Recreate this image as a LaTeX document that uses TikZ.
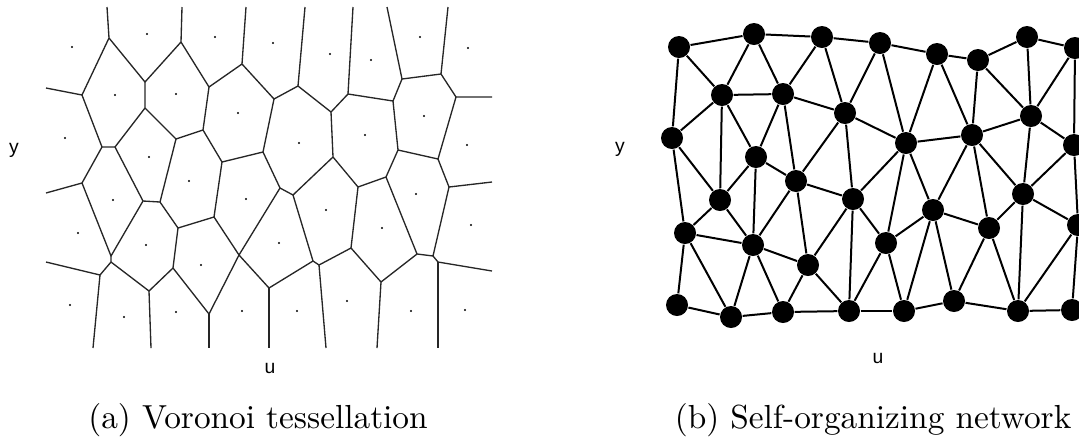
\documentclass[tikz,border=0pt]{standalone}
\usepackage{fontspec}
\newfontfamily\axisfont{Liberation Sans}
\tikzset{
  cell/.style={line width=0.4pt, black!85, line join=round},
  link/.style={line width=0.6pt},
  site/.style={circle, fill=black, inner sep=0pt, minimum size=6.6pt},
  axis/.style={font=\axisfont\fontsize{5.8}{7}\selectfont, anchor=base, inner sep=0pt},
  caption/.style={anchor=base, inner sep=0pt},
}
\begin{document}
\begin{tikzpicture}[x=0.3pt, y=-0.3pt]
  \clip (0,0) rectangle (1079,441);

  % sites (left) and network nodes (right)
  \foreach \i/\px/\py in {1/679/47, 2/754/34, 3/822/37, 4/880/43, 5/937/54,
      6/978/60, 7/1027/37, 8/1075/48, 9/722/95, 10/783/94, 11/845/113,
      12/906/143, 13/972/135, 14/1031/116, 15/1074/145, 16/672/138,
      17/756/157, 18/796/181, 19/720/200, 20/853/199, 21/933/210,
      22/1023/194, 23/1078/225, 24/685/233, 25/753/245, 26/808/265,
      27/886/243, 28/989/228, 29/677/305, 30/731/317, 31/783/312,
      32/849/311, 33/904/311, 34/954/301, 35/1018/311, 36/1072/310}{
    \fill ({\px-607},\py) circle (0.35pt);
    \node[site] (n\i) at (\px,\py) {};
  }

  % Voronoi vertices
  \coordinate (A) at (109,38);   \coordinate (B) at (181,42);
  \coordinate (C) at (242,64);   \coordinate (D) at (145,82);
  \coordinate (E) at (145,108);  \coordinate (F) at (82,95);
  \coordinate (G) at (209,87);   \coordinate (H) at (203,130);
  \coordinate (I) at (176,139);  \coordinate (J) at (102,147);
  \coordinate (K) at (115,147);  \coordinate (L) at (222,162);
  \coordinate (M) at (263,152);  \coordinate (N) at (82,183);
  \coordinate (P) at (298,86);   \coordinate (Q) at (274,99);
  \coordinate (R) at (331,112);  \coordinate (S) at (348,94);
  \coordinate (T) at (393,101);  \coordinate (U) at (402,79);
  \coordinate (V) at (441,74);   \coordinate (W) at (456,97);
  \coordinate (X) at (293,195);  \coordinate (Y) at (280,188);
  \coordinate (Z) at (333,157);  \coordinate (AA) at (358,187);
  \coordinate (BB) at (398,150); \coordinate (CC) at (386,177);
  \coordinate (DD) at (438,159); \coordinate (EE) at (449,187);
  \coordinate (FF) at (313,261); \coordinate (GG) at (319,265);
  \coordinate (HH) at (351,248); \coordinate (II) at (381,282);
  \coordinate (JJ) at (417,254); \coordinate (KK) at (433,256);
  \coordinate (LL) at (438,262); \coordinate (MM) at (269,288);
  \coordinate (OO) at (111,256); \coordinate (OQ) at (111,262);
  \coordinate (PP) at (143,201); \coordinate (QQ) at (160,202);
  \coordinate (RR) at (178,228); \coordinate (SS) at (214,217);
  \coordinate (TT) at (239,255); \coordinate (UU) at (173,268);
  \coordinate (VV) at (149,291); \coordinate (XX) at (100,275);
  \coordinate (YY) at (209,314);

  % open ends of the cells
  \coordinate (At) at (107,7);   \coordinate (Bt) at (182,7);
  \coordinate (Ct) at (246,7);   \coordinate (Pt) at (305,7);
  \coordinate (St) at (353,7);   \coordinate (Ut) at (387,7);
  \coordinate (Vt) at (448,7);
  \coordinate (Fl) at (46,88);   \coordinate (Nl) at (46,193);
  \coordinate (XXl) at (46,262);
  \coordinate (Wr) at (492,97);  \coordinate (EEr) at (492,182);
  \coordinate (LLr) at (492,271);
  \coordinate (XXb) at (93,348); \coordinate (VVb) at (151,348);
  \coordinate (YYb) at (209,348); \coordinate (MMb) at (269,348);
  \coordinate (GGb) at (326,348); \coordinate (IIb) at (377,348);
  \coordinate (LLb) at (438,348);

  % tessellation
  \draw[cell] (At) -- (A) -- (D) -- (B) -- (Bt);
  \draw[cell] (A) -- (F) -- (Fl);
  \draw[cell] (B) -- (G) -- (C) -- (Ct);
  \draw[cell] (C) -- (Q) -- (P) -- (Pt);
  \draw[cell] (D) -- (E) -- (K) -- (J) -- (F);
  \draw[cell] (E) -- (I) -- (H) -- (G);
  \draw[cell] (H) -- (L) -- (M) -- (Q);
  \draw[cell] (J) -- (N) -- (Nl);
  \draw[cell] (K) -- (PP) -- (QQ) -- (I);
  \draw[cell] (P) -- (R) -- (S) -- (St);
  \draw[cell] (S) -- (T) -- (U) -- (Ut);
  \draw[cell] (U) -- (V) -- (Vt);
  \draw[cell] (V) -- (W) -- (Wr);
  \draw[cell] (R) -- (Z) -- (X) -- (Y) -- (M);
  \draw[cell] (Z) -- (AA) -- (CC) -- (BB) -- (T);
  \draw[cell] (BB) -- (DD) -- (W);
  \draw[cell] (DD) -- (EE) -- (EEr);
  \draw[cell] (EE) -- (KK) -- (JJ) -- (CC);
  \draw[cell] (AA) -- (HH) -- (GG) -- (FF) -- (X);
  \draw[cell] (GG) -- (GGb);
  \draw[cell] (HH) -- (II) -- (JJ);
  \draw[cell] (II) -- (IIb);
  \draw[cell] (KK) -- (LL) -- (LLr);
  \draw[cell] (LL) -- (LLb);
  \draw[cell] (FF) -- (MM) -- (TT) -- (Y);
  \draw[cell] (MM) -- (MMb);
  \draw[cell] (L) -- (SS) -- (TT);
  \draw[cell] (N) -- (OO) -- (PP);
  \draw[cell] (OO) -- (OQ) -- (XX) -- (XXl);
  \draw[cell] (XX) -- (XXb);
  \draw[cell] (OQ) -- (VV) -- (UU) -- (RR) -- (QQ);
  \draw[cell] (RR) -- (SS);
  \draw[cell] (VV) -- (VVb);
  \draw[cell] (UU) -- (YY) -- (TT);
  \draw[cell] (YY) -- (YYb);

  % network links
  \foreach \a/\b in {1/2, 2/3, 3/4, 4/5, 5/6, 6/7, 7/8,
      1/9, 1/16, 2/9, 2/10, 3/10, 3/11, 4/11, 4/12, 5/12, 5/13, 6/13,
      6/14, 7/14, 8/14, 8/15, 9/10, 10/11, 11/12, 12/13, 13/14, 14/15,
      9/16, 9/19, 9/17, 10/17, 10/18, 11/18, 11/20, 12/20, 12/27, 12/21,
      13/21, 13/28, 13/22, 14/22, 15/22, 15/23, 16/19, 16/24, 17/19,
      17/18, 17/25, 18/20, 18/25, 18/26, 20/26, 20/27, 20/32, 21/27,
      21/28, 22/28, 22/23, 22/35, 23/35, 23/36, 19/24, 19/25, 24/25,
      24/29, 24/30, 25/30, 25/31, 25/26, 26/31, 26/32, 27/32, 27/33,
      21/33, 21/34, 28/34, 28/35, 29/30, 30/31, 31/32, 32/33, 33/34,
      34/35, 35/36}
    \draw[link] (n\a) -- (n\b);

  % axis letters and captions
  \node[axis] (ya) at (14,153) {y};
  \node[axis] (ua) at (270,373) {u};
  \node[axis] (yb) at (620,152) {y};
  \node[axis] (ub) at (878,363) {u};
  \node[caption] (capa) at (258,428) {(a) Voronoi tessellation};
  \node[caption, anchor=base east] (capb) at (1072,428) {(b) Self-organizing network};
\end{tikzpicture}
\end{document}
